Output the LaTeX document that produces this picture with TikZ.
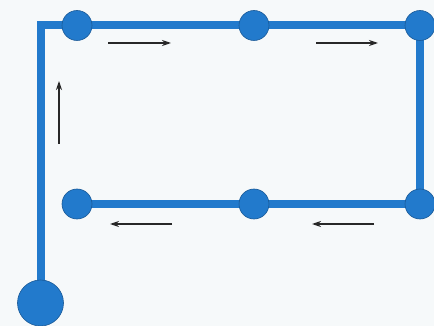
\documentclass[tikz,border=0pt]{standalone}
\usetikzlibrary{arrows.meta,backgrounds}
\definecolor{bgc}{RGB}{246,249,250}
\definecolor{blu}{RGB}{34,122,204}
\definecolor{bludark}{RGB}{24,88,150}
\definecolor{arr}{RGB}{40,40,40}
\tikzset{
  dot/.style={circle,fill=blu,draw=bludark,line width=0.6pt,minimum size=30pt,inner sep=0pt},
  bigdot/.style={dot,minimum size=46pt},
  track/.style={draw=blu,line width=8pt,miter limit=10},
  flow/.style={draw=arr,line width=1.2pt,-{Stealth[length=9pt,width=6pt]}}
}
\begin{document}
\begin{tikzpicture}[x=1pt,y=-1pt]
\useasboundingbox (0,0) rectangle (434,326);
\node[bigdot] (start) at (40.5,303) {};
\node[dot] (t1) at (77,25.5) {};
\node[dot] (t2) at (254,25.5) {};
\node[dot] (t3) at (420,25.5) {};
\node[dot] (b3) at (420,204) {};
\node[dot] (b2) at (254,204) {};
\node[dot] (b1) at (77,204) {};
\coordinate (corner) at (start.center |- t1.center);
\begin{scope}[on background layer]
\fill[bgc] (0,0) rectangle (434,326);
\draw[track] (start.center) -- (corner) -- (t1.center) -- (t2.center) -- (t3.center) -- (b3.center) -- (b2.center) -- (b1.center);
\end{scope}
\coordinate (a1s) at (108,43); \coordinate (a1e) at (171,43);
\coordinate (a2s) at (316,43); \coordinate (a2e) at (378,43);
\coordinate (a3s) at (59,144); \coordinate (a3e) at (59,81);
\coordinate (a4s) at (172,224); \coordinate (a4e) at (110,224);
\coordinate (a5s) at (374,224); \coordinate (a5e) at (312,224);
\draw[flow] (a1s) -- (a1e);
\draw[flow] (a2s) -- (a2e);
\draw[flow] (a3s) -- (a3e);
\draw[flow] (a4s) -- (a4e);
\draw[flow] (a5s) -- (a5e);
\end{tikzpicture}
\end{document}
